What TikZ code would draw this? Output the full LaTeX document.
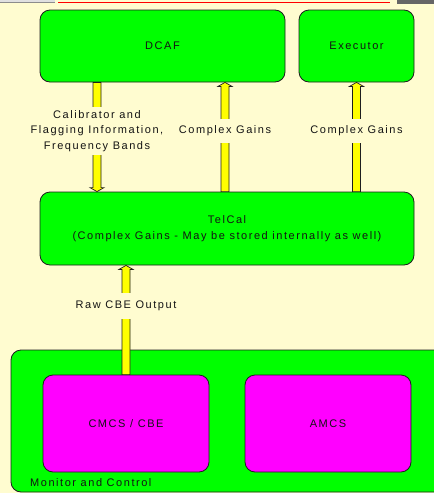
\documentclass[tikz,border=0pt]{standalone}
\usepackage{fontspec}
\setmainfont{Liberation Sans}[LetterSpace=14]
\usetikzlibrary{calc}

\definecolor{cream}{RGB}{255,252,208}
\definecolor{boxgreen}{RGB}{0,255,0}
\definecolor{boxmagenta}{RGB}{255,0,255}
\definecolor{shaft}{RGB}{255,255,0}
\definecolor{ink}{RGB}{20,20,20}
\definecolor{edge}{RGB}{30,30,30}

\begin{document}
\begin{tikzpicture}[x=1pt,y=-1pt,
  font=\fontsize{11}{15.5}\selectfont,
  box/.style={draw=edge, line width=0.8pt, rounded corners=10pt,
    text=ink, align=center, inner sep=0pt},
  greenbox/.style={box, fill=boxgreen},
  pinkbox/.style={box, fill=boxmagenta},
  lbl/.style={fill=cream, text=ink, align=center, inner xsep=2pt, inner ysep=7pt},
  fatline/.style={fill=shaft, draw=edge, line width=0.7pt},
  fat/.style={to path={let \p1=(\tikztostart), \p2=(\tikztotarget),
      \n1={ifthenelse(\y1>\y2,4,-4)} in
      (\x1-4pt,\y1) -- (\x2-4pt,\y2+\n1) -- (\x2-7pt,\y2+\n1) -- (\x2,\y2)
      -- (\x2+7pt,\y2+\n1) -- (\x2+4pt,\y2+\n1) -- (\x1+4pt,\y1) -- cycle}}
]
\useasboundingbox (0,0) rectangle (434,493);
\clip (0,0) rectangle (434,493);
\fill[cream] (0,0) rectangle (434,493);

% bits of neighbouring page furniture along the top edge
\fill[black!12] (0,0) rectangle (55,2);
\draw[black!45, line width=0.6pt] (0,2) -- (55,2);
\draw[red, line width=1pt] (58,2) -- (390,2);
\fill[black!60] (397,0) rectangle (434,4);

% main blocks
\node[greenbox, minimum width=245pt, minimum height=72pt] (dcaf) at (162.5,46) {DCAF};
\node[greenbox, minimum width=115pt, minimum height=72pt] (exec) at (356.5,46) {Executor};
\node[greenbox, minimum width=374pt, minimum height=73pt] (tel) at (227,228.5)
  {TelCal\\(Complex Gains - May be stored internally as well)};

\node[greenbox, minimum width=435pt, minimum height=142pt] (mc) at (228.5,421) {};
\node[anchor=west, text=ink, inner sep=0pt] (mclabel) at (30,483) {Monitor and Control};
\node[pinkbox, minimum width=166pt, minimum height=97pt] (cmcs) at (126,423.5) {CMCS / CBE};
\node[pinkbox, minimum width=166pt, minimum height=97pt] (amcs) at (328,423.5) {AMCS};

% data flows
\draw[fatline] ([xshift=-65.5pt]dcaf.south) to[fat] ([xshift=-130pt]tel.north);
\draw[fatline] ([xshift=-2pt]tel.north) to[fat] ([xshift=62.5pt]dcaf.south);
\draw[fatline] ([xshift=129.5pt]tel.north) to[fat] (exec.south);
\draw[fatline] (cmcs.north) to[fat] ([xshift=-101pt]tel.south);

% flow labels
\node[lbl, inner ysep=3pt] (calinfo) at (97,131)
  {Calibrator and\\Flagging Information,\\Frequency Bands};
\node[lbl] (gainsmid) at (225,131) {Complex Gains};
\node[lbl] (gainsexec) at (356.5,131) {Complex Gains};
\node[lbl, inner ysep=8pt] (rawcbe) at (126,306) {Raw CBE Output};
\end{tikzpicture}
\end{document}
